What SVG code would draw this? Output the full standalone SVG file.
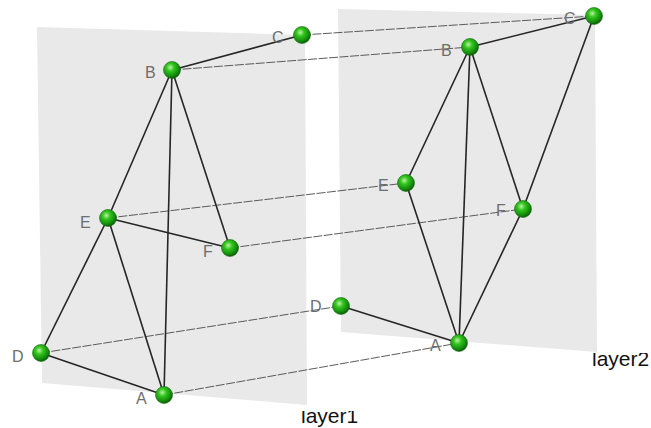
<svg xmlns="http://www.w3.org/2000/svg" width="651" height="428" viewBox="0 0 651 428">
<defs>
<radialGradient id="g" cx="0.4" cy="0.35" r="0.65">
<stop offset="0" stop-color="#b6f5a0"/>
<stop offset="0.35" stop-color="#33c41e"/>
<stop offset="0.8" stop-color="#128a0c"/>
<stop offset="1" stop-color="#0a5a06"/>
</radialGradient>
<clipPath id="c1"><rect x="280" y="411" width="120" height="20"/></clipPath>
<clipPath id="c2"><rect x="580" y="353" width="80" height="20"/></clipPath>
<style>
.plane{fill:#e9e9e9}
.e{stroke:#262626;stroke-width:1.6;fill:none}
.x{stroke:#4a4a4a;stroke-width:0.9;fill:none;stroke-dasharray:9 1.5}
.n{fill:url(#g);stroke:#1a6a12;stroke-width:0.6}
.l{font-family:"Liberation Sans",Arial,sans-serif;font-size:16px;fill:#6e6e6e}
.t{font-family:"Liberation Sans",Arial,sans-serif;font-size:21px;fill:#111}
</style>
</defs>
<polygon class="plane" points="37,27 305,35 307,405 42,383"/>
<polygon class="plane" points="338,9 595,15 597,352 341,332"/>
<g clip-path="url(#c1)"><text class="t" x="301" y="423">layer1</text></g>
<g clip-path="url(#c2)"><text class="t" x="592" y="366">layer2</text></g>
<g id="connectors">
<line class="x" x1="302" y1="35" x2="594" y2="16"/>
<line class="x" x1="172" y1="70" x2="470" y2="47"/>
<line class="x" x1="108" y1="218" x2="406" y2="183"/>
<line class="x" x1="230" y1="248" x2="523" y2="209"/>
<line class="x" x1="41" y1="353" x2="341" y2="306"/>
<line class="x" x1="164" y1="395" x2="459" y2="343"/>
<line class="e" x1="172" y1="70" x2="302" y2="35"/>
<line class="e" x1="172" y1="70" x2="108" y2="218"/>
<line class="e" x1="172" y1="70" x2="164" y2="395"/>
<line class="e" x1="172" y1="70" x2="230" y2="248"/>
<line class="e" x1="108" y1="218" x2="230" y2="248"/>
<line class="e" x1="108" y1="218" x2="41" y2="353"/>
<line class="e" x1="108" y1="218" x2="164" y2="395"/>
<line class="e" x1="41" y1="353" x2="164" y2="395"/>
<line class="e" x1="470" y1="47" x2="594" y2="16"/>
<line class="e" x1="594" y1="16" x2="523" y2="209"/>
<line class="e" x1="470" y1="47" x2="406" y2="183"/>
<line class="e" x1="470" y1="47" x2="459" y2="343"/>
<line class="e" x1="470" y1="47" x2="523" y2="209"/>
<line class="e" x1="406" y1="183" x2="459" y2="343"/>
<line class="e" x1="523" y1="209" x2="459" y2="343"/>
<line class="e" x1="341" y1="306" x2="459" y2="343"/>
</g>
<g id="L1A"><circle class="n" cx="164" cy="395" r="8.5"/><text class="l" x="136" y="404">A</text></g>
<g id="L1B"><circle class="n" cx="172" cy="70" r="8.5"/><text class="l" x="145" y="78">B</text></g>
<g id="L1C"><circle class="n" cx="302" cy="35" r="8.5"/><text class="l" x="272" y="43">C</text></g>
<g id="L1D"><circle class="n" cx="41" cy="353" r="8.5"/><text class="l" x="12" y="362">D</text></g>
<g id="L1E"><circle class="n" cx="108" cy="218" r="8.5"/><text class="l" x="80" y="228">E</text></g>
<g id="L1F"><circle class="n" cx="230" cy="248" r="8.5"/><text class="l" x="203" y="257">F</text></g>
<g id="L2A"><circle class="n" cx="459" cy="343" r="8.5"/><text class="l" x="430" y="351">A</text></g>
<g id="L2B"><circle class="n" cx="470" cy="47" r="8.5"/><text class="l" x="441" y="56">B</text></g>
<g id="L2C"><circle class="n" cx="594" cy="16" r="8.5"/><text class="l" x="564" y="24">C</text></g>
<g id="L2D"><circle class="n" cx="341" cy="306" r="8.5"/><text class="l" x="310" y="312">D</text></g>
<g id="L2E"><circle class="n" cx="406" cy="183" r="8.5"/><text class="l" x="378" y="191">E</text></g>
<g id="L2F"><circle class="n" cx="523" cy="209" r="8.5"/><text class="l" x="496" y="216">F</text></g>
</svg>
